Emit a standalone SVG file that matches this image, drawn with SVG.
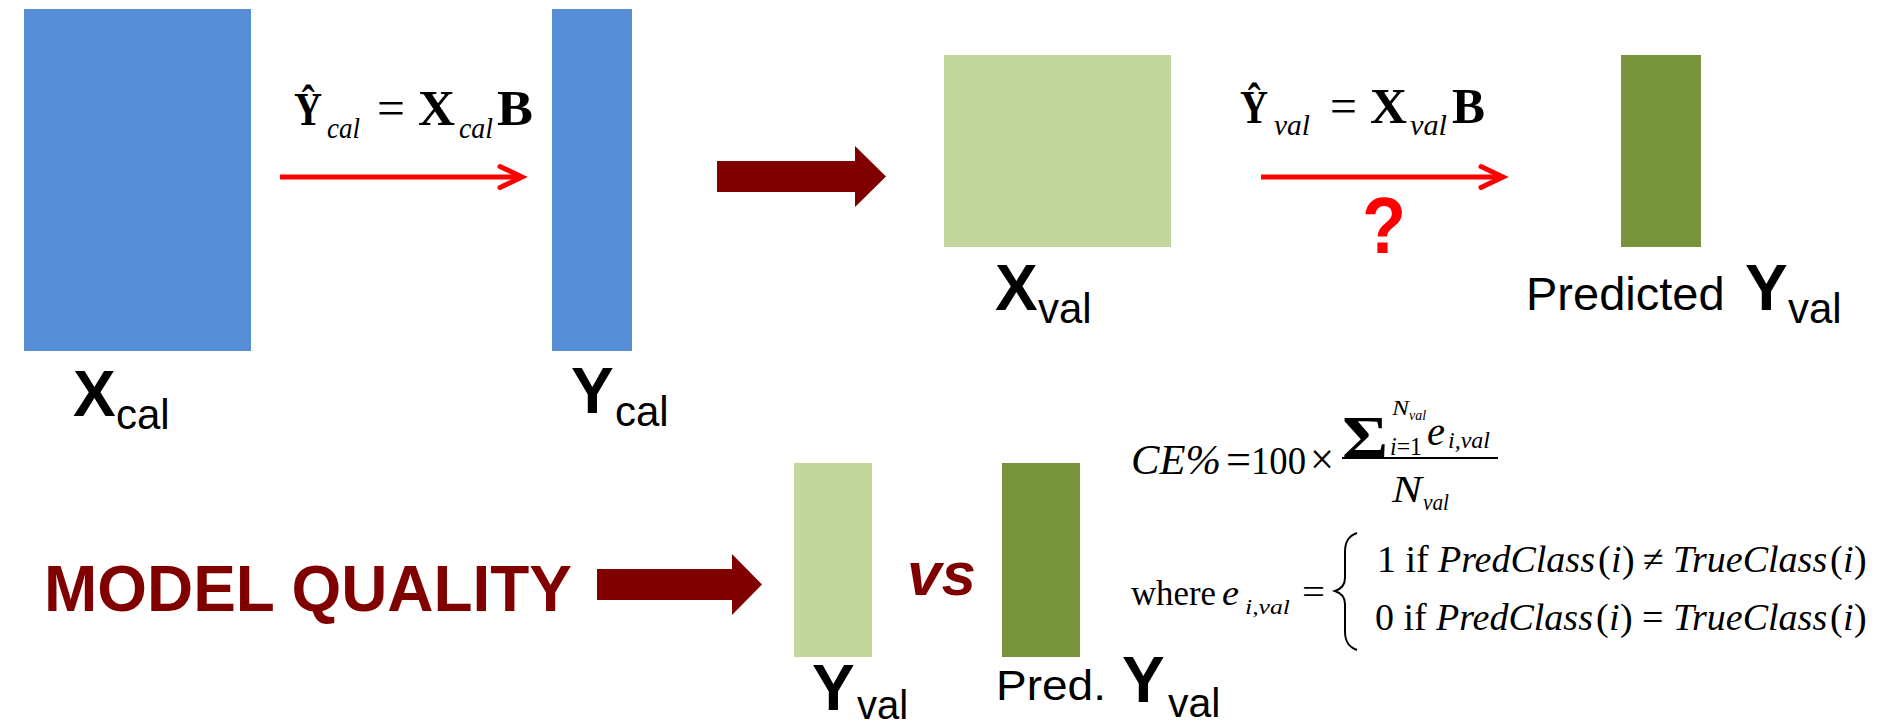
<svg xmlns="http://www.w3.org/2000/svg" width="1884" height="727" viewBox="0 0 1884 727">
  <style>
    .sans { font-family: "Liberation Sans", Arial, sans-serif; fill: #000; }
    .serif { font-family: "Liberation Serif", "Times New Roman", "DejaVu Serif", serif; fill: #000; }
    .b { font-weight: bold; }
    .i { font-style: italic; }
    .cap { font-size: 64px; font-weight: bold; }
    .sub { font-size: 42px; }
    .case { font-size: 38px; }
    .blue { fill: #558ED5; }
    .light { fill: #C3D69B; }
    .dark { fill: #77933C; }
    .maroon { fill: #800000; }
    .redline { stroke: #FF0000; stroke-width: 5; fill: none; }
    .rule { stroke: #000; stroke-width: 2; fill: none; }
  </style>
  <defs>
    <marker id="chev" markerUnits="userSpaceOnUse" viewBox="-26 -14 32 28" markerWidth="32" markerHeight="28" refX="0" refY="0" orient="auto" overflow="visible">
      <path d="M-19,-10.5 L3,0 L-19,10.5" stroke="#FF0000" stroke-width="5" fill="none" stroke-linecap="round" stroke-linejoin="miter"/>
    </marker>
  </defs>
  <rect width="1884" height="727" fill="#FFFFFF"/>

  <!-- calibration matrices -->
  <g id="x-cal">
    <rect class="blue" x="24" y="9" width="227" height="342"/>
    <text class="sans cap" x="73" y="416">X</text>
    <text class="sans sub" x="116" y="429">cal</text>
  </g>
  <g id="y-cal">
    <rect class="blue" x="552" y="9" width="80" height="342"/>
    <text class="sans cap" x="571" y="413">Y</text>
    <text class="sans sub" x="615" y="426">cal</text>
  </g>

  <!-- validation matrices -->
  <g id="x-val">
    <rect class="light" x="944" y="55" width="227" height="192"/>
    <text class="sans cap" x="995" y="310">X</text>
    <text class="sans sub" x="1038" y="323">val</text>
  </g>
  <g id="predicted-y-val">
    <rect class="dark" x="1621" y="55" width="80" height="192"/>
    <text class="sans" font-size="47" x="1526" y="310">Predicted</text>
    <text class="sans cap" x="1745" y="310">Y</text>
    <text class="sans sub" x="1788" y="323">val</text>
  </g>

  <!-- regression equations -->
  <g id="eq-cal">
    <text class="serif b" font-size="46" x="294" y="125" textLength="28" lengthAdjust="spacingAndGlyphs">Ŷ</text>
    <text class="serif i" font-size="29" x="327" y="138" textLength="33" lengthAdjust="spacingAndGlyphs">cal</text>
    <text class="serif" font-size="50" x="377" y="125" textLength="28" lengthAdjust="spacingAndGlyphs">=</text>
    <text class="serif b" font-size="50" x="418" y="125" textLength="37" lengthAdjust="spacingAndGlyphs">X</text>
    <text class="serif i" font-size="29" x="459" y="138" textLength="34" lengthAdjust="spacingAndGlyphs">cal</text>
    <text class="serif b" font-size="50" x="497" y="125" textLength="36" lengthAdjust="spacingAndGlyphs">B</text>
  </g>
  <g id="eq-val">
    <text class="serif b" font-size="46" x="1240" y="123" textLength="28" lengthAdjust="spacingAndGlyphs">Ŷ</text>
    <text class="serif i" font-size="29" x="1274" y="135" textLength="36" lengthAdjust="spacingAndGlyphs">val</text>
    <text class="serif" font-size="50" x="1330" y="123" textLength="27" lengthAdjust="spacingAndGlyphs">=</text>
    <text class="serif b" font-size="50" x="1370" y="123" textLength="37" lengthAdjust="spacingAndGlyphs">X</text>
    <text class="serif i" font-size="29" x="1410" y="135" textLength="37" lengthAdjust="spacingAndGlyphs">val</text>
    <text class="serif b" font-size="50" x="1452" y="123" textLength="33" lengthAdjust="spacingAndGlyphs">B</text>
    <text class="sans b" font-size="80" x="1384" y="253" text-anchor="middle" style="fill:#FF0000" textLength="44" lengthAdjust="spacingAndGlyphs">?</text>
  </g>

  <!-- model quality comparison -->
  <g id="model-quality">
    <text class="sans b maroon" font-size="64" x="44" y="611" textLength="528" lengthAdjust="spacingAndGlyphs">MODEL QUALITY</text>
  </g>
  <g id="y-val">
    <rect class="light" x="794" y="463" width="78" height="194"/>
    <text class="sans cap" font-size="62" x="812" y="710">Y</text>
    <text class="sans" font-size="40" x="857" y="719">val</text>
  </g>
  <g id="vs">
    <text class="sans b i maroon" font-size="62" x="907" y="595">vs</text>
  </g>
  <g id="pred-y-val">
    <rect class="dark" x="1002" y="463" width="78" height="194"/>
    <text class="sans" font-size="43" x="996" y="700" textLength="110" lengthAdjust="spacingAndGlyphs">Pred.</text>
    <text class="sans cap" x="1122" y="702">Y</text>
    <text class="sans" font-size="41" x="1168" y="717">val</text>
  </g>

  <!-- classification error formula -->
  <g id="ce-formula">
    <text class="serif i" font-size="43" x="1131" y="474" textLength="90" lengthAdjust="spacingAndGlyphs">CE%</text>
    <text class="serif" font-size="44" x="1226" y="474" textLength="25" lengthAdjust="spacingAndGlyphs">=</text>
    <text class="serif" font-size="39" x="1251" y="474" textLength="55" lengthAdjust="spacingAndGlyphs">100</text>
    <text class="serif" font-size="44" x="1310" y="474" textLength="24" lengthAdjust="spacingAndGlyphs">×</text>
    <text class="serif b" font-size="62" x="1342" y="458" textLength="46" lengthAdjust="spacingAndGlyphs">Σ</text>
    <text class="serif i" font-size="22" x="1392" y="415" textLength="17" lengthAdjust="spacingAndGlyphs">N</text>
    <text class="serif i" font-size="14" x="1409" y="420" textLength="17" lengthAdjust="spacingAndGlyphs">val</text>
    <text class="serif" font-size="25" x="1390" y="455" textLength="32" lengthAdjust="spacingAndGlyphs"><tspan font-style="italic">i</tspan>=1</text>
    <text class="serif i" font-size="40" x="1427" y="445" textLength="18" lengthAdjust="spacingAndGlyphs">e</text>
    <text class="serif i" font-size="23" x="1448" y="448" textLength="42" lengthAdjust="spacingAndGlyphs">i,val</text>
    <line class="rule" x1="1342" y1="458" x2="1498" y2="458"/>
    <text class="serif i" font-size="38" x="1392" y="502" textLength="30" lengthAdjust="spacingAndGlyphs">N</text>
    <text class="serif i" font-size="24" x="1423" y="510" textLength="26" lengthAdjust="spacingAndGlyphs">val</text>

    <text class="serif" font-size="35" x="1131" y="605" textLength="85" lengthAdjust="spacingAndGlyphs">where</text>
    <text class="serif i" font-size="36" x="1222" y="605" textLength="17" lengthAdjust="spacingAndGlyphs">e</text>
    <text class="serif i" font-size="22" x="1245" y="614" textLength="45" lengthAdjust="spacingAndGlyphs">i,val</text>
    <text class="serif" font-size="36" x="1302" y="604" textLength="23" lengthAdjust="spacingAndGlyphs">=</text>
    <path class="rule" d="M1357,533 C1348,536 1345,542 1345,552 L1345,578 C1345,585 1341,589 1335,591 C1341,593 1345,597 1345,604 L1345,631 C1345,641 1348,647 1357,650"/>

    <!-- case 1 -->
    <text class="serif case" x="1377" y="572">1 if</text>
    <text class="serif case i" x="1438" y="572">PredClass</text>
    <text class="serif case" x="1598" y="572">(</text>
    <text class="serif case i" x="1611" y="572">i</text>
    <text class="serif case" x="1622" y="572">)</text>
    <text class="serif case" x="1643" y="572">≠</text>
    <text class="serif case i" x="1673" y="572">TrueClass</text>
    <text class="serif case" x="1830" y="572">(</text>
    <text class="serif case i" x="1843" y="572">i</text>
    <text class="serif case" x="1854" y="572">)</text>

    <!-- case 0 -->
    <text class="serif case" x="1375" y="630">0 if</text>
    <text class="serif case i" x="1436" y="630">PredClass</text>
    <text class="serif case" x="1596" y="630">(</text>
    <text class="serif case i" x="1609" y="630">i</text>
    <text class="serif case" x="1620" y="630">)</text>
    <text class="serif case" x="1642" y="630">=</text>
    <text class="serif case i" x="1673" y="630">TrueClass</text>
    <text class="serif case" x="1830" y="630">(</text>
    <text class="serif case i" x="1843" y="630">i</text>
    <text class="serif case" x="1854" y="630">)</text>
  </g>

  <!-- connectors -->
  <g id="connectors">
    <line class="redline" x1="280" y1="177" x2="519" y2="177" marker-end="url(#chev)"/>
    <line class="redline" x1="1261" y1="177" x2="1500" y2="177" marker-end="url(#chev)"/>
    <polygon class="maroon" points="717,161 855,161 855,146 886,176.5 855,207 855,192 717,192"/>
    <polygon class="maroon" points="597,569 732,569 732,554 762,584.5 732,615 732,600 597,600"/>
  </g>
</svg>
